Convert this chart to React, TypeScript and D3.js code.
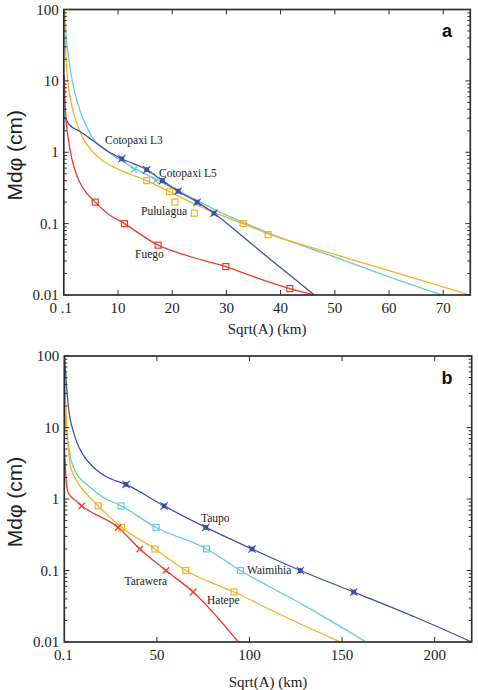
import React from "react";
import * as d3 from "d3";

type Pt = [number, number];

// Line colours
const BLUE = "#3f52a4";
const CYAN = "#66c9dd";
const ORANGE = "#f3b21e";
const RED = "#e53d2f";

// ---- Panel a: Ecuador / Guatemala deposits (x = Sqrt(A) km, y = Mdφ cm) ----
const cotopaxiL3Fit: Pt[] = [
  [0.1, 3.1], [1, 2.45], [3, 1.95], [5.4, 1.45], [8, 1.05], [10.7, 0.81],
  [15.3, 0.57], [18.2, 0.4], [21.1, 0.285], [24.6, 0.2], [27.7, 0.14],
  [33, 0.066], [38, 0.032], [43, 0.0158], [46.2, 0.01],
];
const cotopaxiL3Obs: Pt[] = [
  [10.7, 0.81], [15.3, 0.57], [18.2, 0.4], [21.1, 0.285], [24.6, 0.2], [27.7, 0.14],
];

const cotopaxiL5Fit: Pt[] = [
  [0.15, 100], [0.4, 45], [0.8, 24], [1.3, 13], [2, 7], [3, 3.8],
  [4.2, 2.3], [5.4, 1.55], [7.5, 1.1], [10, 0.82], [12.95, 0.6], [16.95, 0.42],
  [21, 0.29], [24.6, 0.21], [28, 0.155], [33, 0.105], [37.7, 0.074],
  [45, 0.046], [50, 0.034], [60, 0.018], [69.8, 0.01],
];
const cotopaxiL5Obs: Pt[] = [[12.95, 0.57], [16.95, 0.4]];

const pululaguaFit: Pt[] = [
  [0.1, 100], [0.25, 40], [0.5, 16], [1, 7], [1.5, 4.4], [2.5, 2.4],
  [3.6, 1.55], [5, 1.08], [7, 0.78], [10, 0.58], [15.3, 0.4], [19.5, 0.28],
  [24, 0.19], [28, 0.14], [33.1, 0.1], [37.7, 0.072], [45, 0.048],
  [50, 0.037], [60, 0.022], [75, 0.01],
];
const pululaguaObs: Pt[] = [
  [15.3, 0.4], [19.5, 0.28], [20.5, 0.2], [24.1, 0.14], [33.1, 0.1], [37.7, 0.07],
];

const fuegoFit: Pt[] = [
  [0.1, 12], [0.2, 6], [0.4, 3], [0.8, 1.6], [1.5, 0.8], [2.5, 0.45],
  [3.6, 0.31], [5.8, 0.2], [8, 0.14], [11.2, 0.1], [17.4, 0.05], [22, 0.037],
  [29.9, 0.025], [36, 0.017], [41.7, 0.0123], [46.3, 0.01],
];
const fuegoObs: Pt[] = [
  [5.8, 0.2], [11.2, 0.1], [17.4, 0.05], [29.9, 0.025], [41.7, 0.0123],
];

// ---- Panel b: Taupo Volcanic Zone deposits ----
const taupoFit: Pt[] = [
  [0.1, 100], [0.5, 70], [1, 45], [2, 22], [3, 14], [4.5, 9.5], [7, 6],
  [10, 4.2], [15, 2.9], [22, 2.1], [33.3, 1.6], [53.9, 0.8], [76.4, 0.4],
  [101.4, 0.2], [127.5, 0.1], [156.3, 0.05], [190, 0.022], [220, 0.01],
];
const taupoObs: Pt[] = [
  [33.3, 1.6], [53.9, 0.8], [76.4, 0.4], [101.4, 0.2], [127.5, 0.1], [156.3, 0.05],
];

const waimihiaFit: Pt[] = [
  [0.1, 100], [0.25, 40], [0.5, 18], [0.8, 11], [1.3, 8], [2.2, 5.9],
  [3.2, 4.0], [4.9, 2.8], [8, 2.0], [12.1, 1.6], [21, 1.06], [30.7, 0.8],
  [49.6, 0.4], [76.8, 0.2], [95.1, 0.1], [130, 0.032], [163, 0.01],
];
const waimihiaObs: Pt[] = [[30.7, 0.8], [49.6, 0.4], [76.8, 0.2], [95.1, 0.1]];

const hatepeFit: Pt[] = [
  [0.1, 100], [0.4, 40], [0.8, 20], [1.3, 10.5], [2, 5.5], [3.1, 3.1],
  [4.5, 2.3], [6.7, 1.8], [9, 1.45], [12.1, 1.17], [18.3, 0.8], [31, 0.4],
  [48.9, 0.2], [65.6, 0.1], [91.7, 0.05], [120, 0.022], [149, 0.01],
];
const hatepeObs: Pt[] = [
  [18.3, 0.8], [31, 0.4], [48.9, 0.2], [65.6, 0.1], [91.7, 0.05],
];

const taraweraFit: Pt[] = [
  [0.1, 4.4], [0.5, 3.0], [0.9, 2.0], [1.3, 1.5], [2, 1.25], [3.1, 1.12],
  [6, 0.95], [9.4, 0.8], [29.1, 0.4], [40.8, 0.2], [54.9, 0.1], [69.6, 0.05],
  [94, 0.01],
];
const taraweraObs: Pt[] = [
  [9.4, 0.8], [29.1, 0.4], [40.8, 0.2], [54.9, 0.1], [69.6, 0.05],
];

// Axis ticks
const yTickValues = [100, 10, 1, 0.1, 0.01];
const yTickLabels = ["100", "10", "1", "0.1", "0.01"];
const xTicksA = [10, 20, 30, 40, 50, 60, 70];
const xTicksB = [50, 100, 150, 200];
const originLabelA = "0 .1";
const originLabelB = "0.1";

type MarkerKind = "star" | "cross" | "square";

interface Series {
  fit: Pt[];
  obs: Pt[];
  color: string;
  marker: MarkerKind;
}

interface Label {
  text: string;
  x: number;
  y: number;
}

interface Frame {
  left: number;
  right: number;
  top: number;
  bottom: number;
}

const SERIF = "Liberation Serif, Times New Roman, serif";
const SANS = "Liberation Sans, Arial, sans-serif";
const AXIS = "#2e2e2e";

function Marker({ kind, x, y, color }: { kind: MarkerKind; x: number; y: number; color: string }) {
  if (kind === "square") {
    return (
      <rect x={x - 3} y={y - 3} width={6} height={6} fill="none" stroke={color} strokeWidth={1.2} />
    );
  }
  if (kind === "cross") {
    const r = 3.2;
    return (
      <g stroke={color} strokeWidth={1.3}>
        <line x1={x - r} y1={y - r} x2={x + r} y2={y + r} />
        <line x1={x - r} y1={y + r} x2={x + r} y2={y - r} />
      </g>
    );
  }
  const r = 3.6;
  return (
    <g>
      <rect x={x - 2.4} y={y - 2.4} width={4.8} height={4.8} fill={color} />
      <g stroke={color} strokeWidth={1.1}>
        <line x1={x - r} y1={y - r} x2={x + r} y2={y + r} />
        <line x1={x - r} y1={y + r} x2={x + r} y2={y - r} />
      </g>
    </g>
  );
}

function Panel({
  frame,
  xMax,
  xTicks,
  originLabel,
  originDx,
  titleDy,
  series,
  labels,
  letter,
  letterY,
}: {
  frame: Frame;
  xMax: number;
  xTicks: number[];
  originLabel: string;
  originDx: number;
  titleDy: number;
  series: Series[];
  labels: Label[];
  letter: string;
  letterY: number;
}) {
  const x = d3.scaleLinear().domain([0, xMax]).range([frame.left, frame.right]);
  const y = d3.scaleLog().domain([0.01, 100]).range([frame.bottom, frame.top]);
  const line = d3
    .line<Pt>()
    .x((d) => x(d[0]))
    .y((d) => y(d[1]))
    .curve(d3.curveMonotoneX);

  const minor: number[] = [];
  for (const dec of [0.01, 0.1, 1, 10]) {
    for (let k = 2; k <= 9; k++) minor.push(dec * k);
  }

  const clipId = `clip-${letter}`;
  const midY = (frame.top + frame.bottom) / 2;

  return (
    <g>
      <defs>
        <clipPath id={clipId}>
          <rect
            x={frame.left}
            y={frame.top}
            width={frame.right - frame.left}
            height={frame.bottom - frame.top}
          />
        </clipPath>
      </defs>

      <g clipPath={`url(#${clipId})`}>
        {series.map((s, i) => (
          <path key={i} d={line(s.fit) || ""} fill="none" stroke={s.color} strokeWidth={1.3} />
        ))}
      </g>
      {series.map((s, i) => (
        <g key={i}>
          {s.obs.map((p, j) => (
            <Marker key={j} kind={s.marker} x={x(p[0])} y={y(p[1])} color={s.color} />
          ))}
        </g>
      ))}

      {/* frame */}
      <rect
        x={frame.left}
        y={frame.top}
        width={frame.right - frame.left}
        height={frame.bottom - frame.top}
        fill="none"
        stroke={AXIS}
        strokeWidth={1.7}
      />

      {/* y ticks on both sides, x ticks top and bottom */}
      <g stroke={AXIS} strokeWidth={1}>
        {yTickValues.map((v) => (
          <g key={v}>
            <line x1={frame.left} x2={frame.left + 5} y1={y(v)} y2={y(v)} />
            <line x1={frame.right} x2={frame.right - 5} y1={y(v)} y2={y(v)} />
          </g>
        ))}
        {minor.map((v) => (
          <g key={v}>
            <line x1={frame.left} x2={frame.left + 3} y1={y(v)} y2={y(v)} />
            <line x1={frame.right} x2={frame.right - 3} y1={y(v)} y2={y(v)} />
          </g>
        ))}
        {xTicks.map((v) => (
          <g key={v}>
            <line x1={x(v)} x2={x(v)} y1={frame.bottom} y2={frame.bottom - 5} />
            <line x1={x(v)} x2={x(v)} y1={frame.top} y2={frame.top + 5} />
          </g>
        ))}
      </g>

      {/* tick labels and x title */}
      <g style={{ fontFamily: SERIF }} fontSize={15} fill="#222">
        {yTickValues.map((v, i) => (
          <text key={v} x={frame.left - 5} y={y(v) + 5} textAnchor="end">
            {yTickLabels[i]}
          </text>
        ))}
        {xTicks.map((v) => (
          <text key={v} x={x(v)} y={frame.bottom + 17.5} textAnchor="middle">
            {v}
          </text>
        ))}
        <text x={x(0) + originDx} y={frame.bottom + 17.5} textAnchor="middle">
          {originLabel}
        </text>
        <text x={(frame.left + frame.right) / 2} y={frame.bottom + titleDy} textAnchor="middle">
          Sqrt(A) (km)
        </text>
      </g>

      {/* y axis title */}
      <text
        transform={`translate(22, ${midY + 3}) rotate(-90)`}
        textAnchor="middle"
        style={{ fontFamily: SANS }}
        fontSize={21}
        fill="#222"
      >
        Mdφ (cm)
      </text>

      {/* curve names */}
      <g style={{ fontFamily: SERIF }} fontSize={11.5} fill="#222">
        {labels.map((l) => (
          <text key={l.text} x={l.x} y={l.y}>
            {l.text}
          </text>
        ))}
      </g>

      <text
        x={447}
        y={letterY}
        textAnchor="middle"
        style={{ fontFamily: SANS }}
        fontWeight="bold"
        fontSize={18}
        fill="#111"
      >
        {letter}
      </text>
    </g>
  );
}

const seriesA: Series[] = [
  { fit: cotopaxiL5Fit, obs: cotopaxiL5Obs, color: CYAN, marker: "cross" },
  { fit: pululaguaFit, obs: pululaguaObs, color: ORANGE, marker: "square" },
  { fit: fuegoFit, obs: fuegoObs, color: RED, marker: "square" },
  { fit: cotopaxiL3Fit, obs: cotopaxiL3Obs, color: BLUE, marker: "star" },
];

const seriesB: Series[] = [
  { fit: waimihiaFit, obs: waimihiaObs, color: CYAN, marker: "square" },
  { fit: hatepeFit, obs: hatepeObs, color: ORANGE, marker: "square" },
  { fit: taraweraFit, obs: taraweraObs, color: RED, marker: "cross" },
  { fit: taupoFit, obs: taupoObs, color: BLUE, marker: "star" },
];

const labelsA: Label[] = [
  { text: "Cotopaxi L3", x: 105, y: 144 },
  { text: "Cotopaxi L5", x: 159, y: 177 },
  { text: "Pululagua", x: 141, y: 214.5 },
  { text: "Fuego", x: 135, y: 258 },
];

const labelsB: Label[] = [
  { text: "Taupo", x: 201, y: 522 },
  { text: "Waimihia", x: 247, y: 574 },
  { text: "Tarawera", x: 124.5, y: 585 },
  { text: "Hatepe", x: 207, y: 603.5 },
];

export default function App() {
  return (
    <svg
      width={478}
      height={690}
      viewBox="0 0 478 690"
      style={{ position: "absolute", left: 0, top: 0, background: "#fff" }}
    >
      <rect width={478} height={690} fill="#fff" />
      <Panel
        frame={{ left: 63.8, right: 470.3, top: 9.5, bottom: 295 }}
        xMax={75}
        xTicks={xTicksA}
        originLabel={originLabelA}
        originDx={-3}
        titleDy={39}
        series={seriesA}
        labels={labelsA}
        letter="a"
        letterY={37}
      />
      <Panel
        frame={{ left: 64.3, right: 471.7, top: 356, bottom: 642 }}
        xMax={220}
        xTicks={xTicksB}
        originLabel={originLabelB}
        originDx={-1}
        titleDy={45}
        series={seriesB}
        labels={labelsB}
        letter="b"
        letterY={384}
      />
    </svg>
  );
}
